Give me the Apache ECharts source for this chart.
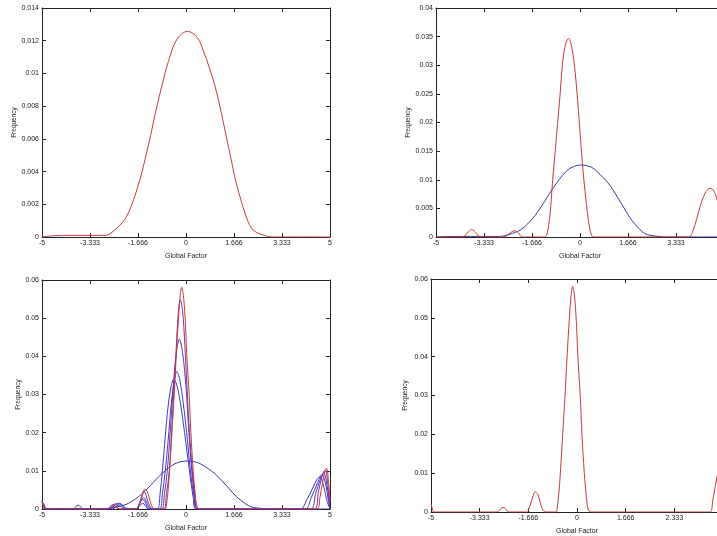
<!DOCTYPE html>
<html lang="en">
<head>
    <meta charset="UTF-8">
    <title>Global Factor</title>
    <script src="https://cdn.jsdelivr.net/npm/echarts@6/dist/echarts.min.js"></script>
    <style>
        html, body { margin: 0; padding: 0; background: #fff; }
        #chart { width: 717px; height: 536px; }
    </style>
</head>
<body>
<div id="chart"></div>
<script>
    // tick labels
    var X_LABELS = ['-5', '-3.333', '-1.666', '0', '1.666', '3.333', '5'];
    var X_LABELS_P4 = ['-5', '-3.333', '-1.666', '0', '1.666', '2.333', '5'];
    var Y_LABELS_P1 = ['0', '0.002', '0.004', '0.006', '0.008', '0.01', '0.012', '0.014'];
    var Y_LABELS_P2 = ['0', '0.005', '0.01', '0.015', '0.02', '0.025', '0.03', '0.035', '0.04'];
    var Y_LABELS_P34 = ['0', '0.01', '0.02', '0.03', '0.04', '0.05', '0.06'];

    // initial (wide) density, panels 1, 2 and 3
    var GAUSS_X = [-5, -4.3, -3.8, -3.1, -2.8, -2.64, -2.43, -2.25, -2.08, -1.9, -1.74, -1.57, -1.40, -1.23, -1.06, -0.83, -0.6, -0.31, 0.05, 0.39, 0.6, 0.8, 0.98, 1.15, 1.32, 1.49, 1.73, 1.9, 2.08, 2.25, 2.43, 2.72, 3.0, 5];
    var GAUSS_Y = [0, 0.0001, 0.0001, 0.0001, 0.0001, 0.0002, 0.0005, 0.0008, 0.0012, 0.0019, 0.0027, 0.0037, 0.0049, 0.0062, 0.0076, 0.0093, 0.0108, 0.0121, 0.01257, 0.0122, 0.0114, 0.0104, 0.0094, 0.0082, 0.0068, 0.0054, 0.0034, 0.0023, 0.0013, 0.0006, 0.0003, 0.0001, 0, 0];

    // panel 2 red
    var R2_X = [-5, -4.1, -4.0, -3.88, -3.76, -3.64, -3.53, -3.4, -2.7, -2.55, -2.4, -2.26, -2.14, -2.0, -1.25, -1.157, -1.04, -0.949, -0.86, -0.775, -0.69, -0.613, -0.51, -0.394, -0.28, -0.174, -0.1, -0.023, 0.08, 0.174, 0.29, 0.405, 0.5, 3.76, 3.93, 4.17, 4.34, 4.51, 4.63, 4.76, 5];
    var R2_Y = [0, 0, 0.0002, 0.0009, 0.0013, 0.0009, 0.0002, 0, 0, 0.0002, 0.0008, 0.0011, 0.0007, 0, 0, 0.0003, 0.004, 0.01, 0.015, 0.02, 0.025, 0.03, 0.0335, 0.0347, 0.033, 0.029, 0.025, 0.02, 0.013, 0.008, 0.003, 0.0002, 0, 0, 0.0012, 0.0053, 0.0076, 0.0085, 0.0082, 0.0065, 0.002];

    // panel 3 intermediate iterations
    var I1_X = [-5, -4.93, -4.85, -3.95, -3.74, -3.55, -2.7, -2.5, -2.3, -2.1, -1.75, -1.5, -1.3, -1.0, -0.9, -0.82, -0.72, -0.62, -0.52, -0.42, -0.32, -0.2, -0.05, 0.12, 0.25, 0.35, 3.96, 4.2, 4.4, 4.55, 4.65, 4.78, 4.9, 5];
    var I1_Y = [0.002, 0.0012, 0, 0, 0.001, 0, 0, 0.0012, 0.0015, 0.0003, 0, 0.0015, 0, 0, 0.004, 0.01, 0.019, 0.027, 0.032, 0.034, 0.0325, 0.028, 0.02, 0.01, 0.003, 0, 0, 0.0025, 0.0055, 0.0078, 0.0085, 0.006, 0.002, 0];
    var I2_X = [-5, -4.93, -4.85, -2.65, -2.45, -2.3, -2.1, -1.75, -1.5, -1.25, -0.92, -0.82, -0.72, -0.62, -0.52, -0.42, -0.32, -0.22, -0.1, 0.05, 0.15, 0.28, 0.38, 4.13, 4.35, 4.55, 4.72, 4.85, 4.95, 5];
    var I2_Y = [0.0018, 0.001, 0, 0, 0.0011, 0.0013, 0, 0, 0.0025, 0, 0, 0.004, 0.01, 0.018, 0.027, 0.033, 0.036, 0.034, 0.028, 0.018, 0.01, 0.003, 0, 0, 0.003, 0.0065, 0.009, 0.0065, 0.002, 0];
    var I3_X = [-5, -4.93, -4.85, -2.55, -2.35, -2.15, -1.75, -1.48, -1.2, -0.85, -0.75, -0.65, -0.55, -0.45, -0.35, -0.23, -0.12, 0, 0.1, 0.2, 0.3, 0.4, 4.31, 4.5, 4.65, 4.78, 4.9, 4.97, 5];
    var I3_Y = [0.0015, 0.0008, 0, 0, 0.001, 0, 0, 0.003, 0, 0, 0.004, 0.01, 0.02, 0.031, 0.04, 0.0445, 0.041, 0.032, 0.02, 0.01, 0.003, 0, 0, 0.004, 0.0075, 0.0095, 0.006, 0.002, 0];
    var I4_X = [-5, -4.93, -4.85, -2.7, -2.5, -2.3, -1.75, -1.6, -1.45, -1.3, -1.15, -0.78, -0.68, -0.58, -0.5, -0.42, -0.34, -0.27, -0.2, -0.12, -0.04, 0.04, 0.12, 0.22, 0.32, 0.4, 4.45, 4.6, 4.72, 4.83, 4.92, 4.97, 5];
    var I4_Y = [0.002, 0.001, 0, 0, 0.0009, 0, 0, 0.0018, 0.0045, 0.0015, 0, 0, 0.004, 0.01, 0.02, 0.031, 0.042, 0.051, 0.0548, 0.052, 0.043, 0.031, 0.02, 0.01, 0.003, 0, 0, 0.0045, 0.0085, 0.0103, 0.007, 0.0025, 0];

    // final (red) density, panels 3 and 4
    var RF_X = [-5, -4.95, -4.9, -2.75, -2.68, -2.6, -2.53, -2.46, -2.4, -2.3, -1.75, -1.68, -1.6, -1.52, -1.43, -1.34, -1.25, -1.16, -1.05, -0.72, -0.68, -0.62, -0.57, -0.49, -0.41, -0.34, -0.26, -0.2, -0.15, -0.09, -0.03, 0.03, 0.11, 0.17, 0.25, 0.32, 0.39, 0.5, 4.55, 4.65, 4.74, 4.82, 4.88, 4.95, 5];
    var RF_Y = [0.0022, 0.0008, 0, 0, 0.0003, 0.0009, 0.0012, 0.0009, 0.0003, 0, 0, 0.0004, 0.0018, 0.0038, 0.0052, 0.0045, 0.0022, 0.0004, 0, 0, 0.001, 0.005, 0.01, 0.02, 0.03, 0.04, 0.05, 0.056, 0.0581, 0.056, 0.05, 0.04, 0.03, 0.02, 0.01, 0.004, 0.0005, 0, 0, 0.003, 0.0068, 0.0098, 0.0107, 0.007, 0.002];

    var RED = '#c93a3a';
    var BLUE = '#3636a8';
    var FONT = 'Liberation Sans, Arial, sans-serif';
    var STEP = 10 / 6;

    function pairs(xs, ys) {
        var out = [];
        for (var i = 0; i < Math.min(xs.length, ys.length); i++) out.push([xs[i], ys[i]]);
        return out;
    }

    // 4 panels in px; the right ones run off the page like the original screenshots
    var grids = [
        { left: 42, top: 8, width: 288, height: 229 },
        { left: 436, top: 8, width: 288, height: 229 },
        { left: 42, top: 280, width: 288, height: 229 },
        { left: 431, top: 279, width: 292, height: 233 }
    ].map(function (g) {
        g.containLabel = false;
        g.outerBoundsMode = 'none';
        return g;
    });

    var xAxes = [], yAxes = [];
    function addAxes(g, xLabels, yLabels, yMax, yStep, yNameGap) {
        var lineStyle = { color: '#222', width: 1 };
        var tick = { show: true, inside: true, length: 4, lineStyle: { color: '#222' } };
        xAxes.push({
            gridIndex: g, type: 'value', position: 'bottom', min: -5, max: 5, interval: STEP,
            axisLine: { onZero: false, lineStyle: lineStyle }, axisTick: tick, splitLine: { show: false },
            axisLabel: {
                fontSize: 7, color: '#222', fontFamily: FONT, margin: 3,
                formatter: function (v) { return xLabels[Math.round((v + 5) / STEP)]; }
            },
            name: 'Global Factor', nameLocation: 'middle', nameGap: 16,
            nameTextStyle: { fontSize: 7, color: '#222', fontFamily: FONT }
        });
        xAxes.push({
            gridIndex: g, type: 'value', position: 'top', min: -5, max: 5, interval: STEP,
            axisLine: { onZero: false, lineStyle: lineStyle }, axisTick: tick,
            axisLabel: { show: false }, splitLine: { show: false }
        });
        yAxes.push({
            gridIndex: g, type: 'value', position: 'left', min: 0, max: yMax, interval: yStep,
            axisLine: { show: true, onZero: false, lineStyle: lineStyle }, axisTick: tick,
            splitLine: { show: false },
            axisLabel: {
                fontSize: 7, color: '#222', fontFamily: FONT, margin: 3,
                formatter: function (v) { return yLabels[Math.round(v / yStep)]; }
            },
            name: 'Frequency', nameLocation: 'middle', nameGap: yNameGap,
            nameTextStyle: { fontSize: 6.5, color: '#222', fontFamily: FONT }
        });
        yAxes.push({
            gridIndex: g, type: 'value', position: 'right', min: 0, max: yMax, interval: yStep,
            axisLine: { show: true, onZero: false, lineStyle: lineStyle }, axisTick: tick,
            axisLabel: { show: false }, splitLine: { show: false }
        });
    }
    addAxes(0, X_LABELS, Y_LABELS_P1, 0.014, 0.002, 24);
    addAxes(1, X_LABELS, Y_LABELS_P2, 0.04, 0.005, 24);
    addAxes(2, X_LABELS, Y_LABELS_P34, 0.06, 0.01, 19);
    addAxes(3, X_LABELS_P4, Y_LABELS_P34, 0.06, 0.01, 22);

    function line(g, xs, ys, color) {
        return {
            type: 'line', xAxisIndex: 2 * g, yAxisIndex: 2 * g,
            data: pairs(xs, ys), showSymbol: false, smooth: 0.35, silent: true,
            lineStyle: { color: color, width: 1 }
        };
    }

    var chart = echarts.init(document.getElementById('chart'));
    chart.setOption({
        animation: false,
        backgroundColor: '#fff',
        grid: grids,
        xAxis: xAxes,
        yAxis: yAxes,
        series: [
            line(0, GAUSS_X, GAUSS_Y, RED),
            line(1, GAUSS_X, GAUSS_Y, BLUE),
            line(1, R2_X, R2_Y, RED),
            line(2, GAUSS_X, GAUSS_Y, BLUE),
            line(2, I1_X, I1_Y, '#3a3ad2'),
            line(2, I2_X, I2_Y, '#4638c8'),
            line(2, I3_X, I3_Y, '#5a36b6'),
            line(2, I4_X, I4_Y, '#7334a2'),
            line(2, RF_X, RF_Y, RED),
            line(3, RF_X, RF_Y, RED)
        ]
    });
</script>
</body>
</html>
